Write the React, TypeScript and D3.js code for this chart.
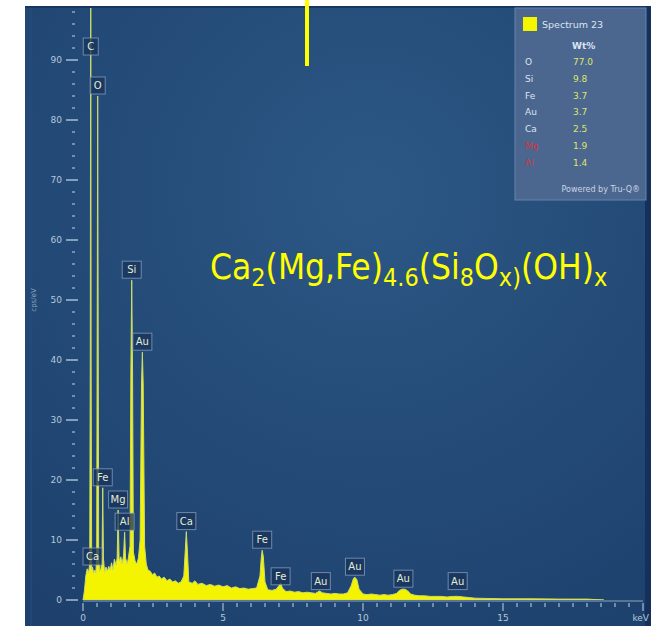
import { area, range, scaleLinear } from 'd3'

// spectrum (keV, cps/eV)
const specKeV = [
    0.0, 0.05, 0.1, 0.15, 0.2, 0.24, 0.26, 0.277, 0.29, 0.31, 0.341, 0.38, 0.42, 0.46, 0.49, 0.51, 0.525, 0.54, 0.56,
    0.6, 0.64, 0.68, 0.705, 0.73, 0.77, 0.82, 0.87, 0.92, 0.97, 1.02, 1.07, 1.12, 1.18, 1.22, 1.254, 1.29, 1.35,
    1.4, 1.45, 1.487, 1.52, 1.58, 1.62, 1.68, 1.71, 1.74, 1.77, 1.8, 1.86, 1.92, 1.98, 2.04, 2.09, 2.12, 2.15, 2.2,
    2.26, 2.32, 2.4, 2.48, 2.56, 2.64, 2.72, 2.8, 2.9, 3.0, 3.1, 3.2, 3.3, 3.4, 3.5, 3.6, 3.65, 3.69, 3.73, 3.78,
    3.9, 4.0, 4.1, 4.25, 4.4, 4.55, 4.7, 4.85, 5.0, 5.15, 5.3, 5.45, 5.6, 5.75, 5.9, 6.05, 6.2, 6.32, 6.37, 6.4,
    6.44, 6.5, 6.6, 6.75, 6.9, 7.0, 7.06, 7.12, 7.25, 7.4, 7.55, 7.7, 7.85, 8.0, 8.15, 8.3, 8.45, 8.55, 8.7, 8.85,
    9.0, 9.15, 9.3, 9.45, 9.58, 9.66, 9.71, 9.78, 9.86, 10.0, 10.15, 10.3, 10.45, 10.6, 10.75, 10.9, 11.05, 11.2,
    11.3, 11.4, 11.5, 11.6, 11.7, 11.85, 12.0, 12.2, 12.4, 12.6, 12.8, 13.0, 13.2, 13.4, 13.6, 13.8, 14.0, 14.5,
    15.0, 16.0, 17.0, 18.0, 18.6
]
const specCps = [
    0, 1.5, 4.0, 5.2, 4.6, 6, 40, 115, 40, 5, 5.5, 4.4, 5.0, 4.5, 8, 50, 84, 50, 7,
    4.8, 5.2, 7, 18.7, 7, 4.6, 5.5, 4.8, 5.6, 5.0, 6.2, 5.0, 6.8, 5.8, 7, 15, 6.5, 7.2,
    6, 7.5, 11.3, 7, 6, 7, 9, 38, 53.3, 38, 8, 6.5, 6, 7, 10, 36, 41.3, 36, 9,
    6, 5, 4.8, 4.2, 4.5, 3.8, 4, 3.5, 3.8, 3.2, 3.5, 3.0, 3.2, 2.8, 3.0, 4, 8, 11.4, 8, 3,
    2.8, 3.2, 2.6, 2.8, 2.4, 2.6, 2.3, 2.5, 2.2, 2.4, 2.0, 2.2, 1.9, 2.0, 1.8, 1.9, 2.0, 4, 7.2, 8.3,
    7.2, 3, 1.7, 1.6, 1.8, 2.4, 2.8, 2.0, 1.4, 1.5, 1.3, 1.4, 1.2, 1.3, 1.2, 1.1, 1.5, 1.2, 1.1, 1.0,
    1.1, 1.0, 1.0, 1.2, 2.4, 3.6, 3.8, 3.4, 1.8, 1.0, 0.9, 1.0, 0.9, 0.8, 0.9, 0.8, 0.9, 1.1,
    1.6, 1.8, 1.8, 1.5, 1.0, 0.8, 0.7, 0.7, 0.6, 0.6, 0.6, 0.5, 0.6, 0.6, 0.5, 0.4, 0.3, 0.25,
    0.2, 0.2, 0.15, 0.15, 0
]

// peak labels
const peakNames = ['C', 'O', 'Ca', 'Fe', 'Mg', 'Al', 'Si', 'Au', 'Ca', 'Fe', 'Fe', 'Au', 'Au', 'Au', 'Au']
const peakKeV = [0.277, 0.525, 0.341, 0.705, 1.254, 1.487, 1.74, 2.12, 3.69, 6.4, 7.058, 8.494, 9.713, 11.442, 13.381]
const peakCps = [115, 84, 5.5, 18.7, 15, 11.3, 53.3, 41.3, 11.4, 8.3, 2.2, 1.4, 3.8, 1.8, 1.4]

// legend
const legendTitle = 'Spectrum 23'
const legendElements = ['O', 'Si', 'Fe', 'Au', 'Ca', 'Mg', 'Al']
const legendWt = ['77.0', '9.8', '3.7', '3.7', '2.5', '1.9', '1.4']
const legendFlagged = [false, false, false, false, false, true, true]

const xTickLabels = ['0', '5', '10', '15', 'keV']

export default function App() {
    const W = 661
    const H = 626
    const x = scaleLinear().domain([0, 20]).range([83, 643])
    const y = scaleLinear().domain([0, 100]).range([600, 0])

    const pts = specKeV.map((k, i) => [k, specCps[i]])
    const spectrumArea = area<number[]>()
        .x(d => x(d[0]))
        .y0(y(0))
        .y1(d => y(d[1]))

    const yMinor = range(0, 99, 2)
    const xMinor = range(0, 20.01, 0.5)

    return (
        <svg width={W} height={H} style={{ position: 'absolute', left: 0, top: 0, background: '#fff' }}
            fontFamily="'DejaVu Sans', Verdana, sans-serif">
            <defs>
                <radialGradient id="bg" cx="0.55" cy="0.3" r="0.85">
                    <stop offset="0" stopColor="#2c5785" />
                    <stop offset="1" stopColor="#1d406c" />
                </radialGradient>
                <clipPath id="plot">
                    <rect x={25} y={8} width={620} height={592} />
                </clipPath>
            </defs>

            {/* panel */}
            <rect x={25} y={6} width={626} height={620} fill="url(#bg)" />
            <rect x={25} y={6} width={626} height={2} fill="#183660" />
            <rect x={645} y={6} width={6} height={620} fill="#15305a" />
            <line x1={31} x2={31} y1={8} y2={626} stroke="#2a4f7c" strokeWidth={1} />

            {/* y axis */}
            <g>
                {yMinor.map(v => (
                    <line key={v} x1={v % 10 === 0 ? 66 : 72} x2={v % 10 === 0 ? 78 : 75}
                        y1={y(v)} y2={y(v)} stroke="#a9bdd6" strokeWidth={v % 10 === 0 ? 1.5 : 1.2} />
                ))}
                {yMinor.filter(v => v % 10 === 0).map(v => (
                    <text key={v} x={62} y={y(v) + 3} fontSize={9} fill="#b7c8dc" textAnchor="end">{v}</text>
                ))}
                <text transform="translate(36,300) rotate(-90)" fontSize={7} fill="#8fa6c2" textAnchor="middle">cps/eV</text>
            </g>

            {/* x axis */}
            <g>
                <line x1={x(0)} x2={x(20)} y1={y(0) + 1} y2={y(0) + 1} stroke="#8ea7c4" strokeWidth={1} />
                {xMinor.map(v => (
                    <line key={v} x1={x(v)} x2={x(v)} y1={603}
                        y2={Math.abs(v % 5) < 0.01 ? 611 : 607} stroke="#a9bdd6" strokeWidth={1.2} />
                ))}
                {xTickLabels.map((t, i) => (
                    <text key={t} x={x(i * 5)} y={621} fontSize={9} fill="#b7c8dc"
                        textAnchor={t === 'keV' ? 'end' : 'middle'} dx={t === 'keV' ? 6 : 0}>{t}</text>
                ))}
            </g>

            {/* spectrum */}
            <g clipPath="url(#plot)">
                <path d={spectrumArea(pts) ?? ''} fill="#f4f400" stroke="#cddc6a" strokeWidth={1} strokeLinejoin="round" />
            </g>

            {/* peak labels */}
            <g>
                {peakNames.map((n, i) => {
                    const bw = n.length > 1 ? 19 : 15
                    const bh = 17
                    const cx = x(peakKeV[i])
                    const bottom = y(Math.min(peakCps[i], 90.5)) - 2
                    return (
                        <g key={i}>
                            <rect x={cx - bw / 2} y={bottom - bh} width={bw} height={bh}
                                fill="#18335a" fillOpacity={0.75} stroke="#8ea8c8" strokeOpacity={0.7} strokeWidth={1} />
                            <text x={cx} y={bottom - 5} fontSize={10} fill="#e4ecd4" textAnchor="middle">{n}</text>
                        </g>
                    )
                })}
            </g>

            {/* legend */}
            <g>
                <rect x={515} y={8} width={131} height={192} fill="#4b6790" stroke="#6784aa" strokeWidth={1} />
                <rect x={523} y={17} width={14} height={14} fill="#f5f500" />
                <text x={542} y={28} fontSize={9.5} fill="#dbe4ef">{legendTitle}</text>
                <text x={572} y={49} fontSize={9} fontWeight="bold" fill="#dbe4ef">Wt%</text>
                {legendElements.map((e, i) => (
                    <g key={e}>
                        <text x={525} y={65 + i * 16.8} fontSize={9} fill={legendFlagged[i] ? '#d2363f' : '#dbe4ef'}>{e}</text>
                        <text x={573} y={65 + i * 16.8} fontSize={9} fill="#dfe668">{legendWt[i]}</text>
                    </g>
                ))}
                <text x={640} y={192} fontSize={8} fill="#c9d5e4" textAnchor="end">Powered by Tru-Q®</text>
            </g>

            {/* annotation */}
            <line x1={307} x2={307} y1={0} y2={66} stroke="#ffff00" strokeWidth={4} />
            <text x={210} y={279} fontSize={35} fill="#ffff00" fontFamily="'DejaVu Sans Condensed', 'DejaVu Sans', sans-serif">
                Ca<tspan fontSize={25} dy={7}>2</tspan>
                <tspan dy={-7}>(Mg,Fe)</tspan>
                <tspan fontSize={25} dy={7}>4.6</tspan>
                <tspan dy={-7}>(Si</tspan>
                <tspan fontSize={25} dy={7}>8</tspan>
                <tspan dy={-7}>O</tspan>
                <tspan fontSize={25} dy={7}>x)</tspan>
                <tspan dy={-7}>(OH)</tspan>
                <tspan fontSize={25} dy={7}>x</tspan>
            </text>
        </svg>
    )
}
